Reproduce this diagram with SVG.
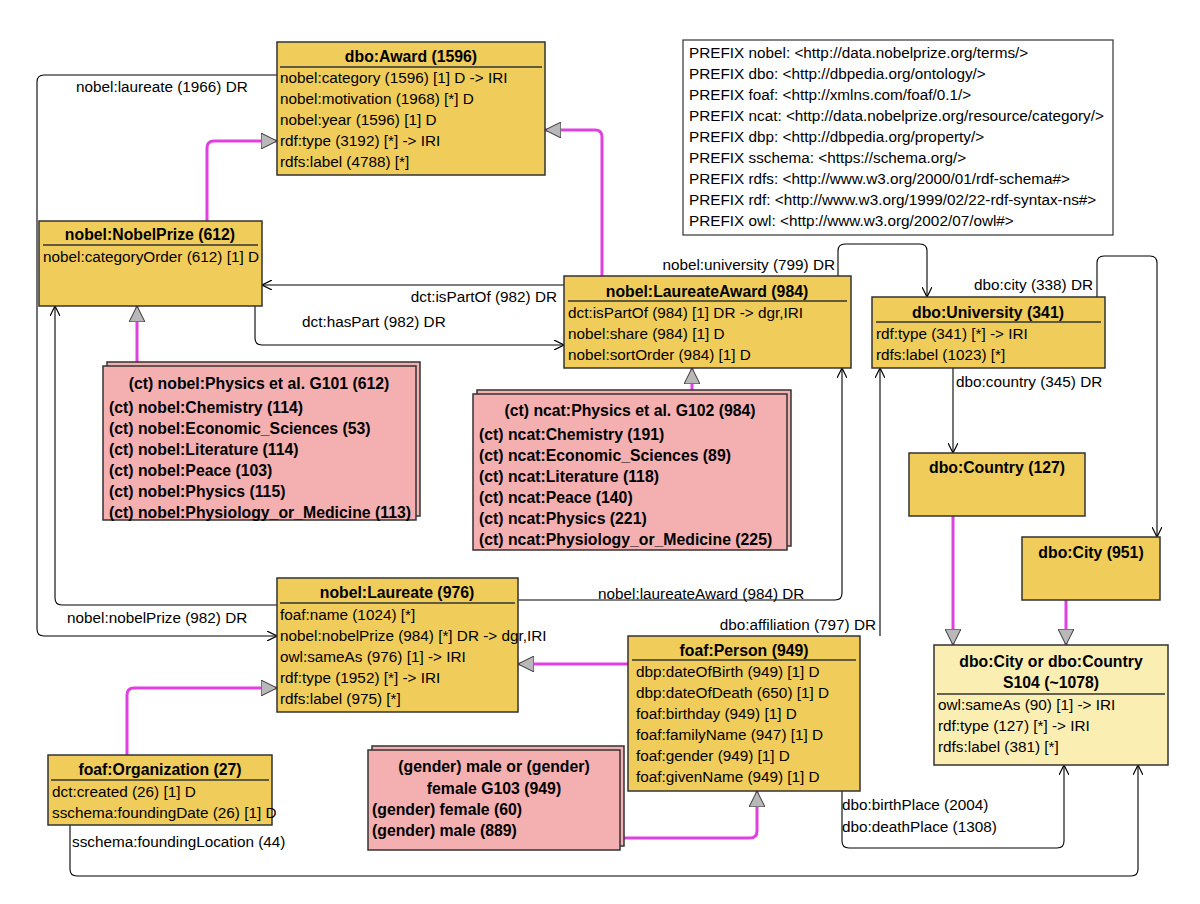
<svg xmlns="http://www.w3.org/2000/svg" width="1200" height="904" viewBox="0 0 1200 904">
<defs>
<marker id="arr" viewBox="0 0 10 10" refX="10" refY="5" markerWidth="10" markerHeight="10" markerUnits="userSpaceOnUse" orient="auto"><path d="M0,0 L10,5 L0,10" fill="none" stroke="#000" stroke-width="1.2"/></marker>
<marker id="tri" viewBox="0 0 16 16" refX="16" refY="8" markerWidth="16" markerHeight="16" markerUnits="userSpaceOnUse" orient="auto"><path d="M0,0 L16,8 L0,16 Z" fill="#b8b8b8" stroke="#333" stroke-width="1"/></marker>
</defs>
<style>
text{font-family:"Liberation Sans",Arial,sans-serif;font-size:15.3px;fill:#000}
.h{font-weight:bold;text-anchor:middle;font-size:15.8px}
.b{font-weight:bold;font-size:15.8px}
.y{fill:#f0cd5a;stroke:#333;stroke-width:1.5}
.ly{fill:#fbeeb2;stroke:#333;stroke-width:1.5}
.p{fill:#f4b0b0;stroke:#333;stroke-width:1.5}
.sep{stroke:#333;stroke-width:1.5}
.c{fill:none;stroke:#000;stroke-width:1.1;marker-end:url(#arr)}
.g{fill:none;stroke:#e040e0;stroke-width:3;marker-end:url(#tri)}
</style>
<rect width="1200" height="904" fill="#fff"/>
<g id="connectors">
<path class="c" d="M277,75 H44 Q37,75 37,82 V629 Q37,636 44,636 H277"/>
<path class="c" d="M277,605 H62 Q55,605 55,598 V306"/>
<path class="c" d="M564,285 H262"/>
<path class="c" d="M255,306 V338 Q255,345 262,345 H564"/>
<path class="c" d="M838,276 V251 Q838,244 845,244 H920 Q927,244 927,251 V297"/>
<path class="c" d="M1097,297 V263 Q1097,256 1104,256 H1150 Q1157,256 1157,263 V537"/>
<path class="c" d="M953,368 V453"/>
<path class="c" d="M518,600 H835 Q842,600 842,593 V368"/>
<path class="c" d="M880,636 V368"/>
<path class="c" d="M842,791 V841 Q842,848 849,848 H1057 Q1064,848 1064,841 V765"/>
<path class="c" d="M70,825 V869 Q70,876 77,876 H1131 Q1138,876 1138,869 V765"/>
<path class="g" d="M207,221 V148 Q207,141 214,141 H277"/>
<path class="g" d="M602,276 V137 Q602,130 595,130 H545"/>
<path class="g" d="M137,366 V306"/>
<path class="g" d="M692,392 V368"/>
<path class="g" d="M953,516 V645"/>
<path class="g" d="M1066,600 V645"/>
<path class="g" d="M628,664 H518"/>
<path class="g" d="M127,755 V695 Q127,688 134,688 H277"/>
<path class="g" d="M622,838 H750 Q757,838 757,831 V791"/>
<text x="76" y="92">nobel:laureate (1966) DR</text>
<text x="67" y="623">nobel:nobelPrize (982) DR</text>
<text x="557" y="302" text-anchor="end">dct:isPartOf (982) DR</text>
<text x="302" y="327">dct:hasPart (982) DR</text>
<text x="835" y="270" text-anchor="end">nobel:university (799) DR</text>
<text x="1093" y="290" text-anchor="end">dbo:city (338) DR</text>
<text x="956" y="387">dbo:country (345) DR</text>
<text x="598" y="599">nobel:laureateAward (984) DR</text>
<text x="876" y="630" text-anchor="end">dbo:affiliation (797) DR</text>
<text x="842" y="810">dbo:birthPlace (2004)</text>
<text x="842" y="832">dbo:deathPlace (1308)</text>
<text x="72" y="847">sschema:foundingLocation (44)</text>
</g>
<g id="prefixes">
<rect x="683" y="40" width="430" height="195" fill="#fff" stroke="#333" stroke-width="1.2"/>
<text x="689" y="58">PREFIX nobel: &lt;http://data.nobelprize.org/terms/&gt;</text>
<text x="689" y="79">PREFIX dbo: &lt;http://dbpedia.org/ontology/&gt;</text>
<text x="689" y="100">PREFIX foaf: &lt;http://xmlns.com/foaf/0.1/&gt;</text>
<text x="689" y="121">PREFIX ncat: &lt;http://data.nobelprize.org/resource/category/&gt;</text>
<text x="689" y="142">PREFIX dbp: &lt;http://dbpedia.org/property/&gt;</text>
<text x="689" y="163">PREFIX sschema: &lt;https://schema.org/&gt;</text>
<text x="689" y="184">PREFIX rdfs: &lt;http://www.w3.org/2000/01/rdf-schema#&gt;</text>
<text x="689" y="205">PREFIX rdf: &lt;http://www.w3.org/1999/02/22-rdf-syntax-ns#&gt;</text>
<text x="689" y="226">PREFIX owl: &lt;http://www.w3.org/2002/07/owl#&gt;</text>
</g>
<g id="award">
<rect class="y" x="277" y="42" width="268" height="133"/>
<text class="h" x="411" y="62">dbo:Award (1596)</text>
<line class="sep" x1="280" y1="67" x2="542" y2="67"/>
<text x="280" y="83">nobel:category (1596) [1] D -&gt; IRI</text>
<text x="280" y="104">nobel:motivation (1968) [*] D</text>
<text x="280" y="125">nobel:year (1596) [1] D</text>
<text x="280" y="146">rdf:type (3192) [*]  -&gt; IRI</text>
<text x="280" y="167">rdfs:label (4788) [*]</text>
</g>
<g id="nobelprize">
<rect class="y" x="39" y="221" width="223" height="85"/>
<text class="h" x="150" y="240">nobel:NobelPrize (612)</text>
<line class="sep" x1="43" y1="245" x2="258" y2="245"/>
<text x="43" y="262">nobel:categoryOrder (612) [1] D</text>
</g>
<g id="laureateaward">
<rect class="y" x="564" y="276" width="287" height="92"/>
<text class="h" x="707" y="297">nobel:LaureateAward (984)</text>
<line class="sep" x1="568" y1="301" x2="847" y2="301"/>
<text x="568" y="318">dct:isPartOf (984) [1] DR -&gt; dgr,IRI</text>
<text x="568" y="339">nobel:share (984) [1] D</text>
<text x="568" y="360">nobel:sortOrder (984) [1] D</text>
</g>
<g id="university">
<rect class="y" x="872" y="297" width="233" height="71"/>
<text class="h" x="988" y="318">dbo:University (341)</text>
<line class="sep" x1="876" y1="322" x2="1101" y2="322"/>
<text x="876" y="339">rdf:type (341) [*]  -&gt; IRI</text>
<text x="876" y="360">rdfs:label (1023) [*]</text>
</g>
<g id="country">
<rect class="y" x="909" y="453" width="176" height="63"/>
<text class="h" x="997" y="473">dbo:Country (127)</text>
</g>
<g id="city">
<rect class="y" x="1022" y="537" width="138" height="63"/>
<text class="h" x="1091" y="558">dbo:City (951)</text>
</g>
<g id="cityorcountry">
<rect class="ly" x="934" y="645" width="234" height="120"/>
<text class="h" x="1051" y="667">dbo:City or dbo:Country</text>
<text class="h" x="1051" y="688">S104 (~1078)</text>
<line class="sep" x1="937" y1="694" x2="1165" y2="694"/>
<text x="938" y="710">owl:sameAs (90) [1]  -&gt; IRI</text>
<text x="938" y="731">rdf:type (127) [*]  -&gt; IRI</text>
<text x="938" y="752">rdfs:label (381) [*]</text>
</g>
<g id="laureate">
<rect class="y" x="277" y="578" width="241" height="134"/>
<text class="h" x="397" y="598">nobel:Laureate (976)</text>
<line class="sep" x1="280" y1="603" x2="515" y2="603"/>
<text x="280" y="620">foaf:name (1024) [*]</text>
<text x="280" y="641">nobel:nobelPrize (984) [*] DR -&gt; dgr,IRI</text>
<text x="280" y="662">owl:sameAs (976) [1]  -&gt; IRI</text>
<text x="280" y="683">rdf:type (1952) [*]  -&gt; IRI</text>
<text x="280" y="704">rdfs:label (975) [*]</text>
</g>
<g id="person">
<rect class="y" x="628" y="636" width="232" height="155"/>
<text class="h" x="744" y="656">foaf:Person (949)</text>
<line class="sep" x1="632" y1="660" x2="856" y2="660"/>
<text x="636" y="677">dbp:dateOfBirth (949) [1] D</text>
<text x="636" y="698">dbp:dateOfDeath (650) [1] D</text>
<text x="636" y="719">foaf:birthday (949) [1] D</text>
<text x="636" y="740">foaf:familyName (947) [1] D</text>
<text x="636" y="761">foaf:gender (949) [1] D</text>
<text x="636" y="782">foaf:givenName (949) [1] D</text>
</g>
<g id="organization">
<rect class="y" x="48" y="755" width="224" height="70"/>
<text class="h" x="160" y="775">foaf:Organization (27)</text>
<line class="sep" x1="51" y1="780" x2="269" y2="780"/>
<text x="52" y="797">dct:created (26) [1] D</text>
<text x="52" y="818">sschema:foundingDate (26) [1] D</text>
</g>
<g id="g101">
<rect class="p" x="107" y="362" width="313" height="154"/>
<rect class="p" x="103" y="366" width="313" height="154"/>
<text class="h" x="259" y="389">(ct) nobel:Physics et al. G101 (612)</text>
<text class="b" x="109" y="413">(ct) nobel:Chemistry (114)</text>
<text class="b" x="109" y="434">(ct) nobel:Economic_Sciences (53)</text>
<text class="b" x="109" y="455">(ct) nobel:Literature (114)</text>
<text class="b" x="109" y="476">(ct) nobel:Peace (103)</text>
<text class="b" x="109" y="497">(ct) nobel:Physics (115)</text>
<text class="b" x="109" y="518">(ct) nobel:Physiology_or_Medicine (113)</text>
</g>
<g id="g102">
<rect class="p" x="477" y="390" width="314" height="156"/>
<rect class="p" x="473" y="394" width="314" height="156"/>
<text class="h" x="630" y="416">(ct) ncat:Physics et al. G102 (984)</text>
<text class="b" x="479" y="440">(ct) ncat:Chemistry (191)</text>
<text class="b" x="479" y="461">(ct) ncat:Economic_Sciences (89)</text>
<text class="b" x="479" y="482">(ct) ncat:Literature (118)</text>
<text class="b" x="479" y="503">(ct) ncat:Peace (140)</text>
<text class="b" x="479" y="524">(ct) ncat:Physics (221)</text>
<text class="b" x="479" y="545">(ct) ncat:Physiology_or_Medicine (225)</text>
</g>
<g id="g103">
<rect class="p" x="372" y="746" width="252" height="100"/>
<rect class="p" x="368" y="750" width="252" height="100"/>
<text class="h" x="494" y="772">(gender) male or (gender)</text>
<text class="h" x="494" y="794">female G103 (949)</text>
<text class="b" x="372" y="815">(gender) female (60)</text>
<text class="b" x="372" y="836">(gender) male (889)</text>
</g>
</svg>
